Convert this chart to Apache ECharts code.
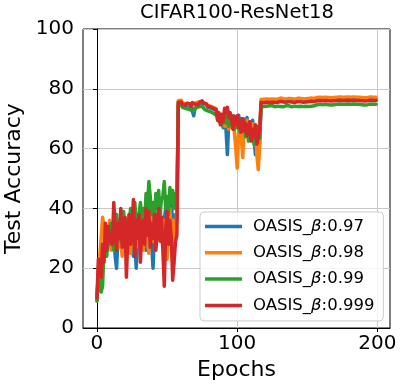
<!DOCTYPE html>
<html>
<head>
<meta charset="utf-8">
<script src="https://cdn.jsdelivr.net/npm/echarts@6/dist/echarts.min.js"></script>
<style>
html,body{margin:0;padding:0;background:#fff;}
#chart{width:407px;height:391px;}
</style>
</head>
<body>
<div id="chart"></div>
<script>
const chartTitle = 'CIFAR100-ResNet18';
const xName = 'Epochs';
const yName = 'Test Accuracy';
const xTicks = [0, 100, 200];
const seriesNames = ['OASIS_β:0.97', 'OASIS_β:0.98', 'OASIS_β:0.99', 'OASIS_β:0.999'];
const colors = ['#1f77b4', '#ff7f0e', '#2ca02c', '#d62728'];

const epochs = Array.from({length: 200}, (_, i) => i);

const blue = [
10,18,22,16,27,24,30,26,33,29,
27,35,31,24,20,30,28,33,26,36,
30,25,32,38,28,33,24,30,20,31,
36,28,34,39,30,26,35,40,32,28,
20,33,38,30,35,41,33,27,36,40,
31,37,33,42,35,28,38,36,
75.6,75.2,75.8,75.0,75.4,74.6,75.2,74.4,74.8,74.0,
73.6,71.0,74.2,74.8,74.4,75.0,74.6,75.2,74.8,74.2,
74.6,73.8,74.2,73.6,74.0,73.2,73.6,72.8,
71.5,70.6,71.2,69.5,67.0,70.2,66.5,58.0,69.5,70.8,
68.2,71.0,69.0,70.5,67.5,71.2,68.5,70.0,66.0,69.8,
67.2,70.4,64.5,68.8,66.2,69.5,63.0,58.0,67.5,65.0,62.0,
75.8,76.0,75.7,76.1,75.9,76.0,75.8,76.1,75.9,76.0,
75.8,76.1,76.0,75.9,76.2,75.8,76.0,76.1,75.9,76.0,
76.1,75.9,76.0,76.2,75.8,76.0,76.1,75.9,76.1,76.0,
75.9,76.2,76.0,75.9,76.1,76.0,76.2,75.9,76.1,76.3,
76.4,76.2,76.5,76.3,76.4,76.2,76.5,76.3,76.4,76.6,
76.3,76.5,76.4,76.2,76.5,76.4,76.6,76.3,76.5,76.4,
76.5,76.3,76.6,76.4,76.5,76.3,76.6,76.4,76.5,76.3,
76.5,76.6,76.4,76.5,76.3,76.6,76.4,76.5,76.6,76.4,76.5,76.3,76.5
];

const orange = [
9,20,24,30,37,34,25,33,28,36,
26,34,29,38,31,27,35,29,24,33,
37,28,34,30,25,36,31,39,27,33,
28,37,32,26,35,40,30,25,34,38,
29,35,27,36,31,39,33,28,36,32,
23,35,40,30,36,28,34,39,
76.0,75.6,76.2,75.3,75.8,75.0,75.6,74.8,75.3,74.6,
75.0,74.4,74.8,75.4,75.0,75.6,75.2,76.0,75.4,74.8,
75.2,74.4,74.8,74.2,74.6,73.8,74.2,73.4,
71.0,70.0,69.2,68.0,70.5,67.5,69.8,68.2,66.5,69.0,
67.0,70.2,65.5,60.0,53.5,66.0,69.0,63.0,57.0,68.5,
66.8,69.5,65.0,67.8,64.5,68.2,63.5,66.0,58.0,53.0,60.5,
76.4,76.7,76.5,76.8,76.6,76.7,76.5,76.8,76.6,76.7,
76.5,76.8,76.6,76.7,76.9,76.5,76.7,76.8,76.6,76.7,
76.8,76.6,76.7,76.9,76.5,76.7,76.8,76.6,76.8,76.7,
76.6,76.9,76.7,76.6,76.8,76.7,76.9,76.6,76.8,77.0,
77.1,76.9,77.2,77.0,77.1,76.9,77.2,77.0,77.1,77.3,
77.0,77.2,77.1,76.9,77.2,77.1,77.3,77.0,77.2,77.1,
77.2,77.0,77.3,77.1,77.2,77.0,77.3,77.1,77.2,77.0,
77.2,77.3,77.1,77.2,77.0,77.3,77.1,77.2,77.3,77.1,77.2,77.0,77.2
];

const green = [
9,17,21,12,14,26,30,24,33,28,
35,30,26,34,38,31,36,29,35,39,
32,36,30,35,40,33,37,42,35,31,
38,42,36,40,34,45,40,49,44,38,
42,36,45,40,46,38,43,44,49,40,
44,38,47,42,46,40,45,41,
74.4,74.0,74.6,73.8,74.3,73.5,74.0,73.2,73.8,72.9,
73.4,72.6,73.2,73.8,73.3,74.0,73.5,74.2,73.6,73.0,
73.4,72.6,73.0,72.3,72.8,71.8,72.2,71.2,
70.2,69.0,70.5,68.0,69.5,71.5,68.5,70.8,67.5,70.2,
68.0,71.0,66.5,69.5,67.0,70.0,65.5,68.8,66.2,69.2,
64.0,67.5,62.5,66.8,63.5,65.8,61.5,64.0,62.0,66.0,63.5,
74.0,74.3,74.1,74.4,74.2,74.0,74.3,74.1,74.4,74.2,
74.0,74.3,74.2,74.4,74.1,74.3,74.0,74.2,74.4,74.1,
74.3,74.2,74.0,74.4,74.2,74.3,74.1,74.4,74.2,74.3,
74.1,74.3,74.2,74.4,74.1,74.3,74.2,74.4,74.3,74.6,
74.7,74.5,74.8,74.6,74.7,74.5,74.8,74.6,74.7,74.9,
74.6,74.8,74.7,74.5,74.8,74.7,74.9,74.6,74.8,74.7,
74.8,74.6,74.9,74.7,74.8,74.6,74.9,74.7,74.8,74.6,
74.8,74.9,74.7,74.8,74.6,74.9,74.7,74.8,74.9,74.7,74.8,74.6,74.8
];

const red = [
10,23,22,17,28,22,35,26,34,30,
30,28,42,33,26,35,30,40,27,32,
37,17,30,38,28,33,43,24,36,30,
38,22,34,36,28,40,31,39,27,35,
30,38,26,34,40,29,37,26,14,33,
39,28,36,30,16,22,29,31,
75.4,75.0,75.6,74.8,75.3,74.5,75.2,74.6,75.0,74.2,
75.4,75.8,74.9,75.2,74.6,75.5,75.0,75.9,75.2,74.6,
75.0,74.2,74.7,73.9,74.5,73.5,74.0,73.0,
69.5,72.0,68.0,71.5,69.0,73.5,72.0,73.8,70.5,72.0,
69.5,66.5,70.8,68.0,71.0,67.0,69.5,65.5,70.0,66.0,
68.5,64.5,67.0,69.0,62.5,66.5,64.0,68.0,61.5,63.5,66.0,
75.4,75.6,75.3,75.7,75.5,75.6,75.4,75.7,75.5,75.6,
75.4,75.7,75.5,75.6,75.8,75.4,75.6,75.7,75.5,75.6,
75.7,75.5,75.6,75.8,75.4,75.6,75.7,75.5,75.7,75.6,
75.5,75.8,75.6,75.5,75.7,75.6,75.8,75.5,75.7,75.9,
76.0,75.8,76.1,75.9,76.0,75.8,76.1,75.9,76.0,76.2,
75.9,76.1,76.0,75.8,76.1,76.0,76.2,75.9,76.1,76.0,
76.1,75.9,76.2,76.0,76.1,75.9,76.2,76.0,76.1,75.9,
76.1,76.2,76.0,76.1,75.9,76.2,76.0,76.1,76.2,76.0,76.1,75.9,76.1
];

const allValues = [blue, orange, green, red];
const FONT = 'DejaVu Sans';

const chart = echarts.init(document.getElementById('chart'), null, {renderer: 'canvas'});

const series = allValues.map((vals, k) => ({
  name: seriesNames[k],
  type: 'line',
  data: epochs.map((e, i) => [e, vals[i]]),
  showSymbol: false,
  symbol: 'none',
  lineStyle: {color: colors[k], width: 3.5, join: 'round', cap: 'round'},
  itemStyle: {color: colors[k]},
  clip: true,
  z: 2 + k
}));

chart.setOption({
  animation: false,
  backgroundColor: '#ffffff',
  textStyle: {fontFamily: FONT},
  title: {
    text: chartTitle,
    left: 237,
    top: 3,
    padding: 0,
    textAlign: 'center',
    textStyle: {fontFamily: FONT, fontSize: 19.5, fontWeight: 'normal', color: '#000'}
  },
  grid: {
    left: 83, right: 17, top: 29, bottom: 63,
    show: true, borderColor: '#000', borderWidth: 1, backgroundColor: 'transparent',
    containLabel: false, outerBoundsMode: 'none'
  },
  legend: {
    orient: 'vertical',
    left: 200,
    top: 212,
    padding: [6, 9, 7, 5],
    itemWidth: 37,
    itemHeight: 3.5,
    itemGap: 9.3,
    icon: 'rect',
    backgroundColor: 'rgba(255,255,255,0.8)',
    borderColor: '#cccccc',
    borderWidth: 1,
    borderRadius: 4,
    data: seriesNames,
    formatter: name => '{n|OASIS_}{b|β}{n|' + name.split('β')[1] + '}',
    textStyle: {
      fontFamily: FONT, fontSize: 16.5, color: '#000', padding: [0, 0, 0, 6],
      rich: {
        n: {fontFamily: FONT, fontSize: 16.5, color: '#000'},
        b: {fontFamily: FONT, fontSize: 16.5, color: '#000', fontStyle: 'italic'}
      }
    }
  },
  xAxis: {
    type: 'value',
    min: -9.95,
    max: 208.95,
    name: xName,
    nameLocation: 'middle',
    nameGap: 29,
    nameTextStyle: {fontFamily: FONT, fontSize: 22, color: '#000'},
    axisLine: {show: true, onZero: false, lineStyle: {color: '#000', width: 1}},
    axisTick: {show: true, length: 4, customValues: xTicks, lineStyle: {color: '#000', width: 1}},
    axisLabel: {customValues: xTicks, fontFamily: FONT, fontSize: 20, color: '#000', margin: 6},
    splitLine: {show: true, lineStyle: {color: '#c8c8c8', width: 1}}
  },
  yAxis: {
    type: 'value',
    min: 0,
    max: 100,
    interval: 20,
    name: yName,
    nameLocation: 'middle',
    nameGap: 53,
    nameTextStyle: {fontFamily: FONT, fontSize: 22, color: '#000'},
    axisLine: {show: true, lineStyle: {color: '#000', width: 1}},
    axisTick: {show: true, length: 4, lineStyle: {color: '#000', width: 1}},
    axisLabel: {fontFamily: FONT, fontSize: 20, color: '#000', margin: 9},
    splitLine: {show: true, lineStyle: {color: '#c8c8c8', width: 1}}
  },
  series: series
});
</script>
</body>
</html>
